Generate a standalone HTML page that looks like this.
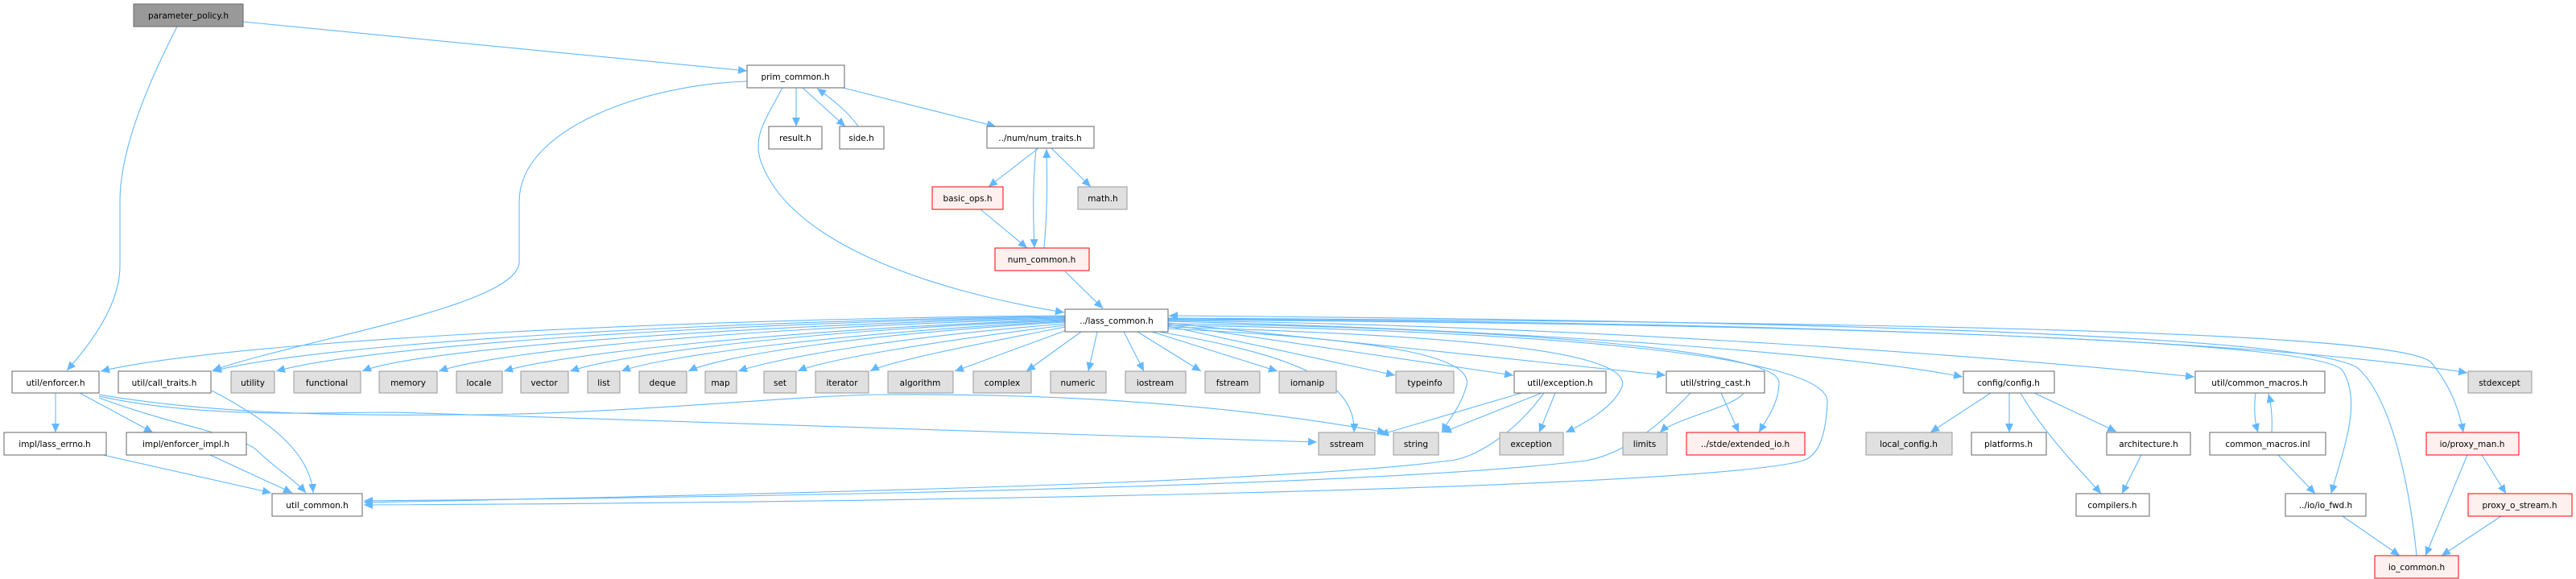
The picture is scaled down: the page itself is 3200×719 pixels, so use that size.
<!DOCTYPE html>
<html><head><meta charset="utf-8"><style>
html,body{margin:0;padding:0;background:#fff;}
svg{display:block;}
text{font-family:"DejaVu Sans","Liberation Sans",sans-serif;font-size:10.5px;fill:#000;text-anchor:middle;}
.e{fill:none;stroke:#63b8ff;stroke-width:1.1;marker-end:url(#a);}
</style></head><body>
<svg width="3200" height="719" viewBox="0 0 3200 719" xmlns="http://www.w3.org/2000/svg">
<defs><marker id="a" markerUnits="userSpaceOnUse" markerWidth="12" markerHeight="10" refX="11" refY="5" orient="auto"><path d="M0,0 L11,5 L0,10 z" fill="#63b8ff"/></marker></defs>
<g id="edges">
<path class="e" d="M302,27 L928,88"/>
<path class="e" d="M220,33 C170,130 149,200 149,250 L149,330 C149,380 110,430 83,460"/>
<path class="e" d="M928,101 C800,105 645,160 645,250 L645,325 C645,380 380,420 264,460"/>
<path class="e" d="M989,109 L989,157"/>
<path class="e" d="M997,109 L1050,157"/>
<path class="e" d="M1066,157 C1055,140 1030,120 1015,110"/>
<path class="e" d="M1047,109 L1237,157"/>
<path class="e" d="M972,109 C950,150 935,170 945,200 C980,300 1150,360 1322,388"/>
<path class="e" d="M1290,184 L1228,232"/>
<path class="e" d="M1287,184 C1283,230 1283,260 1285,308"/>
<path class="e" d="M1297,308 C1301,260 1301,230 1300,185"/>
<path class="e" d="M1306,184 L1355,232"/>
<path class="e" d="M1218,260 L1276,308"/>
<path class="e" d="M1323,337 L1370,383"/>
<!-- lass_common to row -->
<path class="e" d="M1323,392 C900,395 300,420 125,461"/>
<path class="e" d="M1323,393 C900,398 400,425 264,461"/>
<path class="e" d="M1323,394 C900,400 450,430 343,461"/>
<path class="e" d="M1323,395 C950,402 520,432 450,461"/>
<path class="e" d="M1323,396 C950,405 620,435 545,461"/>
<path class="e" d="M1323,397 C1000,408 700,438 626,461"/>
<path class="e" d="M1323,398 C1000,410 770,440 708,461"/>
<path class="e" d="M1323,399 C1050,413 820,442 772,461"/>
<path class="e" d="M1323,400 C1050,416 890,444 855,461"/>
<path class="e" d="M1323,402 C1100,420 960,446 917,461"/>
<path class="e" d="M1323,404 C1150,425 1020,448 991,461"/>
<path class="e" d="M1323,406 C1200,430 1100,450 1081,461"/>
<path class="e" d="M1325,410 L1186,461"/>
<path class="e" d="M1343,412 L1275,461"/>
<path class="e" d="M1363,412 L1352,461"/>
<path class="e" d="M1396,412 L1421,461"/>
<path class="e" d="M1413,412 L1492,461"/>
<path class="e" d="M1431,412 L1587,461"/>
<path class="e" d="M1451,405 L1733,466"/>
<path class="e" d="M1451,403 L1880,466"/>
<path class="e" d="M1451,401 L2069,466"/>
<path class="e" d="M1451,399 C1900,410 2300,440 2438,468"/>
<path class="e" d="M1451,398 C2000,405 2500,445 2726,468"/>
<path class="e" d="M1451,396 C2200,400 2800,420 3065,463"/>
<path class="e" d="M1440,412 C1600,440 1685,470 1682,537"/>
<path class="e" d="M1451,408 C1700,420 1830,440 1822,478 C1815,505 1800,520 1791,537"/>
<path class="e" d="M1451,406 C1750,415 2030,430 2015,480 C2005,505 1970,525 1945,537"/>
<path class="e" d="M1451,402 C1800,405 2210,430 2210,475 C2210,500 2195,520 2185,537"/>
<path class="e" d="M1451,404 C1900,410 2275,440 2270,500 C2268,540 2260,565 2240,572 C2100,610 1000,625 452,627"/>
<path class="e" d="M1451,397 C2200,402 2880,420 2910,460 C2935,500 2910,560 2896,613"/>
<path class="e" d="M3002,690 C2995,620 2975,500 2930,458 C2880,415 2200,398 1452,392"/>
<path class="e" d="M1451,395 C2300,400 2980,410 3020,450 C3045,480 3055,510 3060,537"/>
<!-- enforcer -->
<path class="e" d="M69,488 L69,537"/>
<path class="e" d="M99,488 L190,537"/>
<path class="e" d="M123,494 C220,530 300,540 320,560 C340,580 365,595 380,612"/>
<path class="e" d="M123,492 C250,520 400,512 491,512 C700,520 1200,535 1636,549"/>
<path class="e" d="M123,490 C300,520 500,515 600,515 C800,512 1000,490 1100,490 C1400,488 1600,515 1722,537"/>
<path class="e" d="M263,485 C330,520 385,560 389,612"/>
<path class="e" d="M128,565 L337,612"/>
<path class="e" d="M261,565 L363,612"/>
<!-- exception -->
<path class="e" d="M1890,488 L1714,540"/>
<path class="e" d="M1915,488 L1792,537"/>
<path class="e" d="M1932,488 L1912,537"/>
<path class="e" d="M1918,488 C1880,540 1830,570 1800,572 C1600,600 900,615 452,624"/>
<path class="e" d="M2166,488 C2155,505 2080,520 2062,537"/>
<path class="e" d="M2138,488 L2160,537"/>
<path class="e" d="M2100,488 C2050,540 2010,565 1970,572 C1700,605 900,618 452,622"/>
<!-- config -->
<path class="e" d="M2473,488 L2398,537"/>
<path class="e" d="M2496,488 L2496,537"/>
<path class="e" d="M2510,488 C2540,540 2590,590 2610,613"/>
<path class="e" d="M2527,488 L2629,536"/>
<path class="e" d="M2660,565 L2636,613"/>
<path class="e" d="M2802,488 C2800,505 2800,520 2805,537"/>
<path class="e" d="M2822,537 C2823,520 2822,505 2818,489"/>
<path class="e" d="M2830,565 L2876,613"/>
<path class="e" d="M2910,641 L2981,690"/>
<path class="e" d="M3065,565 L3013,690"/>
<path class="e" d="M3083,565 L3113,613"/>
<path class="e" d="M3107,641 L3033,690"/>
</g>
<g id="nodes" stroke-width="1">
<rect x="166" y="5" width="136" height="28" fill="#999" stroke="#666"/><text x="234" y="23">parameter_policy.h</text>
<rect x="928" y="81" width="121" height="28" fill="#fff" stroke="#666"/><text x="988" y="99">prim_common.h</text>
<rect x="955" y="157" width="66" height="28" fill="#fff" stroke="#666"/><text x="988" y="175">result.h</text>
<rect x="1043" y="157" width="55" height="28" fill="#fff" stroke="#666"/><text x="1070" y="175">side.h</text>
<rect x="1226" y="157" width="133" height="27" fill="#fff" stroke="#666"/><text x="1292" y="175">../num/num_traits.h</text>
<rect x="1158" y="232" width="88" height="28" fill="#fff0f0" stroke="#f00"/><text x="1202" y="250">basic_ops.h</text>
<rect x="1339" y="232" width="61" height="28" fill="#e0e0e0" stroke="#999"/><text x="1370" y="250">math.h</text>
<rect x="1236" y="308" width="117" height="28" fill="#fff0f0" stroke="#f00"/><text x="1294" y="326">num_common.h</text>
<rect x="1323" y="384" width="128" height="28" fill="#fff" stroke="#666"/><text x="1387" y="402">../lass_common.h</text>

<rect x="15" y="461" width="108" height="27" fill="#fff" stroke="#666"/><text x="69" y="479">util/enforcer.h</text>
<rect x="147" y="461" width="115" height="27" fill="#fff" stroke="#666"/><text x="204" y="479">util/call_traits.h</text>
<rect x="287" y="461" width="54" height="27" fill="#e0e0e0" stroke="#999"/><text x="314" y="479">utility</text>
<rect x="365" y="461" width="83" height="27" fill="#e0e0e0" stroke="#999"/><text x="406" y="479">functional</text>
<rect x="471" y="461" width="72" height="27" fill="#e0e0e0" stroke="#999"/><text x="507" y="479">memory</text>
<rect x="567" y="461" width="57" height="27" fill="#e0e0e0" stroke="#999"/><text x="595" y="479">locale</text>
<rect x="647" y="461" width="59" height="27" fill="#e0e0e0" stroke="#999"/><text x="676" y="479">vector</text>
<rect x="730" y="461" width="40" height="27" fill="#e0e0e0" stroke="#999"/><text x="750" y="479">list</text>
<rect x="794" y="461" width="59" height="27" fill="#e0e0e0" stroke="#999"/><text x="823" y="479">deque</text>
<rect x="876" y="461" width="39" height="27" fill="#e0e0e0" stroke="#999"/><text x="895" y="479">map</text>
<rect x="949" y="461" width="40" height="27" fill="#e0e0e0" stroke="#999"/><text x="969" y="479">set</text>
<rect x="1013" y="461" width="66" height="27" fill="#e0e0e0" stroke="#999"/><text x="1046" y="479">iterator</text>
<rect x="1103" y="461" width="81" height="27" fill="#e0e0e0" stroke="#999"/><text x="1143" y="479">algorithm</text>
<rect x="1209" y="461" width="72" height="27" fill="#e0e0e0" stroke="#999"/><text x="1245" y="479">complex</text>
<rect x="1305" y="461" width="69" height="27" fill="#e0e0e0" stroke="#999"/><text x="1339" y="479">numeric</text>
<rect x="1398" y="461" width="75" height="27" fill="#e0e0e0" stroke="#999"/><text x="1435" y="479">iostream</text>
<rect x="1497" y="461" width="68" height="27" fill="#e0e0e0" stroke="#999"/><text x="1531" y="479">fstream</text>
<rect x="1589" y="461" width="71" height="27" fill="#e0e0e0" stroke="#999"/><text x="1624" y="479">iomanip</text>
<rect x="1734" y="461" width="72" height="27" fill="#e0e0e0" stroke="#999"/><text x="1770" y="479">typeinfo</text>
<rect x="1881" y="461" width="114" height="27" fill="#fff" stroke="#666"/><text x="1938" y="479">util/exception.h</text>
<rect x="2070" y="461" width="122" height="27" fill="#fff" stroke="#666"/><text x="2131" y="479">util/string_cast.h</text>
<rect x="2439" y="461" width="113" height="27" fill="#fff" stroke="#666"/><text x="2495" y="479">config/config.h</text>
<rect x="2727" y="461" width="161" height="27" fill="#fff" stroke="#666"/><text x="2807" y="479">util/common_macros.h</text>
<rect x="3066" y="461" width="79" height="27" fill="#e0e0e0" stroke="#999"/><text x="3105" y="479">stdexcept</text>

<rect x="5" y="537" width="127" height="28" fill="#fff" stroke="#666"/><text x="68" y="555">impl/lass_errno.h</text>
<rect x="157" y="537" width="149" height="28" fill="#fff" stroke="#666"/><text x="231" y="555">impl/enforcer_impl.h</text>
<rect x="1638" y="537" width="70" height="28" fill="#e0e0e0" stroke="#999"/><text x="1673" y="555">sstream</text>
<rect x="1731" y="537" width="56" height="28" fill="#e0e0e0" stroke="#999"/><text x="1759" y="555">string</text>
<rect x="1863" y="537" width="79" height="28" fill="#e0e0e0" stroke="#999"/><text x="1902" y="555">exception</text>
<rect x="2016" y="537" width="55" height="28" fill="#e0e0e0" stroke="#999"/><text x="2043" y="555">limits</text>
<rect x="2095" y="537" width="147" height="28" fill="#fff0f0" stroke="#f00"/><text x="2168" y="555">../stde/extended_io.h</text>
<rect x="2318" y="537" width="107" height="28" fill="#e0e0e0" stroke="#999"/><text x="2371" y="555">local_config.h</text>
<rect x="2449" y="537" width="93" height="28" fill="#fff" stroke="#666"/><text x="2495" y="555">platforms.h</text>
<rect x="2617" y="537" width="104" height="28" fill="#fff" stroke="#666"/><text x="2669" y="555">architecture.h</text>
<rect x="2745" y="537" width="144" height="28" fill="#fff" stroke="#666"/><text x="2817" y="555">common_macros.inl</text>
<rect x="3014" y="537" width="115" height="28" fill="#fff0f0" stroke="#f00"/><text x="3071" y="555">io/proxy_man.h</text>

<rect x="338" y="613" width="112" height="28" fill="#fff" stroke="#666"/><text x="394" y="631">util_common.h</text>
<rect x="2579" y="613" width="91" height="28" fill="#fff" stroke="#666"/><text x="2624" y="631">compilers.h</text>
<rect x="2839" y="613" width="100" height="28" fill="#fff" stroke="#666"/><text x="2889" y="631">../io/io_fwd.h</text>
<rect x="3066" y="613" width="129" height="28" fill="#fff0f0" stroke="#f00"/><text x="3130" y="631">proxy_o_stream.h</text>
<rect x="2950" y="690" width="104" height="28" fill="#fff0f0" stroke="#f00"/><text x="3002" y="708">io_common.h</text>
</g>
</svg>
</body></html>
